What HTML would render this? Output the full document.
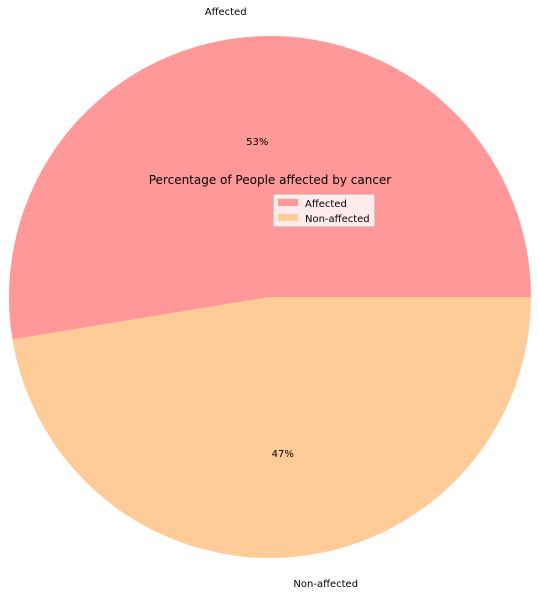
<!DOCTYPE html>
<html><head><meta charset="utf-8"><style>
body{margin:0;background:#fff;}
svg{display:block;font-family:"DejaVu Sans","Liberation Sans",sans-serif;}
</style></head><body>
<svg id="chart" width="538" height="596"></svg>
<script>
const categories = ["Affected","Non-affected"];
const values = [52.6, 47.4];
const colors = ["#ff9999","#ffcc99"];
const svg = document.getElementById('chart');
const NS = 'http://www.w3.org/2000/svg';
const cx = 270, cy = 297, R = 261;
const total = values.reduce((a,b)=>a+b,0);
let start = 0;
function pt(a, r){ return [cx + r*Math.cos(a), cy - r*Math.sin(a)]; }
values.forEach((v,i)=>{
  const sweep = v/total*2*Math.PI;
  const end = start + sweep;
  const [x1,y1] = pt(start,R), [x2,y2] = pt(end,R);
  const p = document.createElementNS(NS,'path');
  p.setAttribute('d',`M${cx},${cy} L${x1},${y1} A${R},${R} 0 ${sweep>Math.PI?1:0} 0 ${x2},${y2} Z`);
  p.setAttribute('fill',colors[i]);
  
  
  svg.appendChild(p);
  const mid = start + sweep/2;
  const [lx,ly] = pt(mid, R*1.1);
  const t = document.createElementNS(NS,'text');
  t.setAttribute('x',lx); t.setAttribute('y',ly+4);
  t.setAttribute('font-size','10');
  t.setAttribute('text-anchor', Math.cos(mid)<0 ? 'end' : 'start');
  t.textContent = categories[i];
  
  
  svg.appendChild(t);
  const [px,py] = pt(mid, R*0.6);
  const tp = document.createElementNS(NS,'text');
  tp.setAttribute('x',px); tp.setAttribute('y',py+4);
  tp.setAttribute('font-size','10');
  tp.setAttribute('text-anchor','middle');
  tp.textContent = Math.round(v/total*100) + '%';
  
  
  svg.appendChild(tp);
  start = end;
});
</script>
<svg style="position:absolute;left:0;top:0" width="538" height="596">
  <text x="270" y="184" font-size="12" text-anchor="middle" font-family="DejaVu Sans, Liberation Sans, sans-serif">Percentage of People affected by cancer</text>
  <g font-family="DejaVu Sans, Liberation Sans, sans-serif" font-size="10">
    <rect x="273.5" y="194.5" width="101" height="32" rx="2" fill="#fff" fill-opacity="0.8" stroke="#ccc"/>
    <rect x="278" y="199" width="20" height="7" fill="#ff9999"/>
    <text x="305" y="207">Affected</text>
    <rect x="278" y="214" width="20" height="7" fill="#ffcc99"/>
    <text x="305" y="222">Non-affected</text>
  </g>
</svg>
</body></html>
